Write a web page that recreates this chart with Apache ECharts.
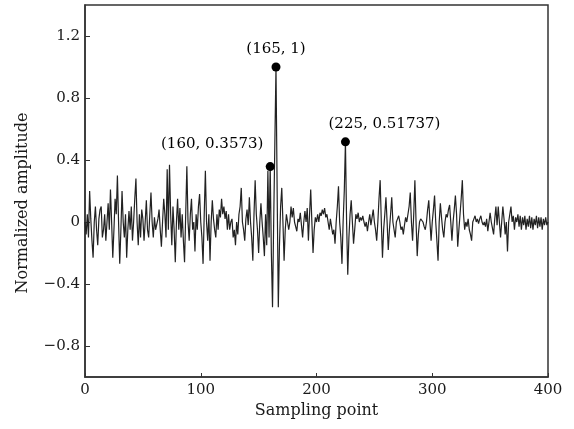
<!DOCTYPE html>
<html>
<head>
<meta charset="utf-8">
<script src="https://cdn.jsdelivr.net/npm/echarts@6/dist/echarts.min.js"></script>
<style>html,body{margin:0;padding:0;background:#fff}#c{width:574px;height:429px}</style>
</head>
<body>
<div id="c"></div>
<script>
// sampled signal, one value per sampling point 0..400
var amplitude = [
 0.0,-0.08,0.05,-0.1,0.2,0.02,-0.12,-0.23,0.0,0.1,
 -0.05,-0.15,0.02,0.08,0.1,-0.1,-0.05,0.05,-0.12,0.0,
 0.12,-0.05,0.21,0.0,-0.23,-0.05,0.15,0.05,0.30,0.0,
 -0.27,-0.05,0.2,0.0,-0.1,0.05,-0.23,-0.05,0.07,-0.05,
 0.1,-0.12,0.0,0.15,0.28,0.0,-0.15,0.05,-0.1,0.08,
 0.02,-0.12,0.0,0.14,-0.05,-0.1,0.05,0.19,0.0,-0.1,
 0.03,-0.05,-0.05,0.02,0.08,-0.05,-0.16,0.0,0.15,0.05,
 -0.1,0.34,-0.05,0.37,0.05,-0.15,0.1,-0.05,-0.26,0.0,
 0.15,-0.05,0.09,-0.1,0.05,-0.12,-0.26,0.05,0.36,0.0,
 -0.12,0.05,0.15,-0.05,0.0,-0.19,0.05,-0.05,0.1,0.18,
 0.0,-0.1,-0.27,0.05,0.33,0.0,-0.12,0.05,-0.25,0.0,
 0.14,0.02,-0.05,-0.1,0.05,-0.05,0.08,0.03,0.15,0.05,
 0.1,0.02,0.07,-0.05,0.05,-0.05,0.0,0.02,-0.1,-0.05,
 -0.15,0.0,-0.08,0.05,0.1,0.22,0.0,-0.05,-0.12,0.02,
 0.08,-0.02,0.16,0.0,-0.1,-0.25,0.05,0.27,0.05,-0.05,
 -0.2,0.0,0.12,0.0,-0.1,-0.22,0.05,-0.15,0.33,-0.1,
 0.3573,-0.2,-0.55,0.0,0.5,1.0,0.2,-0.55,-0.15,0.1,
 0.22,0.0,-0.25,-0.05,0.05,0.05,-0.05,0.0,0.1,0.03,
 0.09,0.0,-0.03,-0.06,0.02,0.0,0.06,-0.02,-0.1,0.0,
 0.07,0.0,0.09,-0.12,0.05,0.21,0.0,-0.2,-0.05,0.03,
 0.0,0.05,0.0,0.06,0.04,0.08,0.05,0.09,0.03,0.05,
 0.0,-0.05,0.02,-0.03,-0.08,-0.05,-0.14,0.0,0.1,0.23,
 0.0,-0.1,-0.27,0.0,0.2,0.51737,0.0,-0.34,-0.1,0.05,
 0.14,0.0,-0.14,-0.05,0.05,0.02,0.06,0.0,0.03,0.01,
 0.04,0.0,-0.03,0.0,-0.06,0.0,0.05,-0.02,0.03,0.08,
 0.0,-0.05,-0.12,0.0,0.15,0.27,0.0,-0.23,-0.05,0.05,
 0.16,0.0,-0.18,-0.05,0.05,0.16,0.0,-0.05,-0.1,0.0,
 0.02,0.04,0.0,-0.05,-0.03,-0.08,-0.02,0.03,0.0,0.05,
 0.1,0.19,0.0,-0.12,0.05,0.27,0.0,-0.22,-0.08,0.0,
 0.02,0.03,0.0,-0.03,-0.05,0.0,0.08,0.14,0.0,-0.12,
 0.0,0.08,0.17,0.0,-0.12,-0.25,0.0,0.12,0.03,-0.05,
 -0.1,0.0,0.05,0.03,0.08,0.11,0.0,-0.12,0.0,0.08,
 0.17,0.05,-0.16,-0.05,0.05,0.15,0.27,0.05,-0.05,0.0,
 -0.03,0.02,-0.05,-0.08,-0.12,0.0,0.02,0.04,0.0,0.02,
 -0.01,0.02,0.04,0.0,-0.02,0.0,-0.03,0.02,-0.06,0.0,
 0.06,0.0,-0.04,-0.08,0.02,0.1,-0.02,0.1,0.0,-0.1,
 0.0,0.1,0.02,-0.08,0.0,-0.19,0.0,0.05,0.1,0.0,
 0.04,-0.05,0.03,0.0,0.05,-0.03,0.04,-0.05,0.03,-0.02,
 0.04,-0.05,0.02,-0.03,0.04,-0.04,0.03,-0.05,0.02,-0.02,
 0.04,-0.04,0.03,-0.03,0.03,-0.05,0.02,-0.02,0.03,-0.02,
 0.0
];
var peakX = [160, 165, 225];
var peakY = [0.3573, 1, 0.51737];
var peakLabels = ['(160, 0.3573)', '(165, 1)', '(225, 0.51737)'];
var xTicks = [0, 100, 200, 300, 400];
var yTicks = [-0.8, -0.4, 0, 0.4, 0.8, 1.2];

var FONT = 'DejaVu Serif';
var INK = '#1a1a1a';
var lineData = amplitude.map(function (v, i) { return [i, v]; });
var labelOffsets = [[-58, -5], [0, 0], [39, 0]];
var peakData = peakX.map(function (x, i) {
  return {
    value: [x, peakY[i]],
    label: { show: true, position: 'top', distance: 6, offset: labelOffsets[i], formatter: peakLabels[i] }
  };
});

var chart = echarts.init(document.getElementById('c'), null, { renderer: 'canvas' });
chart.setOption({
  animation: false,
  backgroundColor: '#fff',
  grid: { left: 85, right: 26, top: 5, bottom: 52, show: true, borderColor: '#333', borderWidth: 1.5, containLabel: false },
  xAxis: {
    type: 'value', min: 0, max: 400, interval: 100,
    name: 'Sampling point', nameLocation: 'middle', nameGap: 26,
    nameTextStyle: { fontFamily: FONT, fontSize: 16, color: INK },
    axisLine: { show: true, onZero: false, lineStyle: { color: '#333', width: 1.5 } },
    axisTick: { show: true, inside: true, length: 4, customValues: xTicks, lineStyle: { color: '#333' } },
    axisLabel: { customValues: xTicks, fontFamily: FONT, fontSize: 15, color: INK, margin: 6 },
    splitLine: { show: false }
  },
  yAxis: {
    type: 'value', min: -1.0, max: 1.4,
    name: 'Normalized amplitude', nameLocation: 'middle', nameGap: 54,
    nameTextStyle: { fontFamily: FONT, fontSize: 16, color: INK, padding: [0, 24, 0, 0] },
    axisLine: { show: true, onZero: false, lineStyle: { color: '#333', width: 1.5 } },
    axisTick: { show: true, inside: true, length: 5, customValues: yTicks, lineStyle: { color: '#333' } },
    axisLabel: {
      customValues: yTicks, fontFamily: FONT, fontSize: 15, color: INK, margin: 5,
      formatter: function (v) { return v < 0 ? '\u2212' + Math.abs(v) : String(v); }
    },
    splitLine: { show: false }
  },
  series: [
    {
      type: 'line', data: lineData, showSymbol: false, smooth: false,
      lineStyle: { color: '#222', width: 1.2 }, z: 2
    },
    {
      type: 'scatter', data: peakData, symbolSize: 9,
      itemStyle: { color: '#000', opacity: 1 },
      label: { fontFamily: FONT, fontSize: 15, color: '#000' }, z: 3
    }
  ]
});
</script>
</body>
</html>
